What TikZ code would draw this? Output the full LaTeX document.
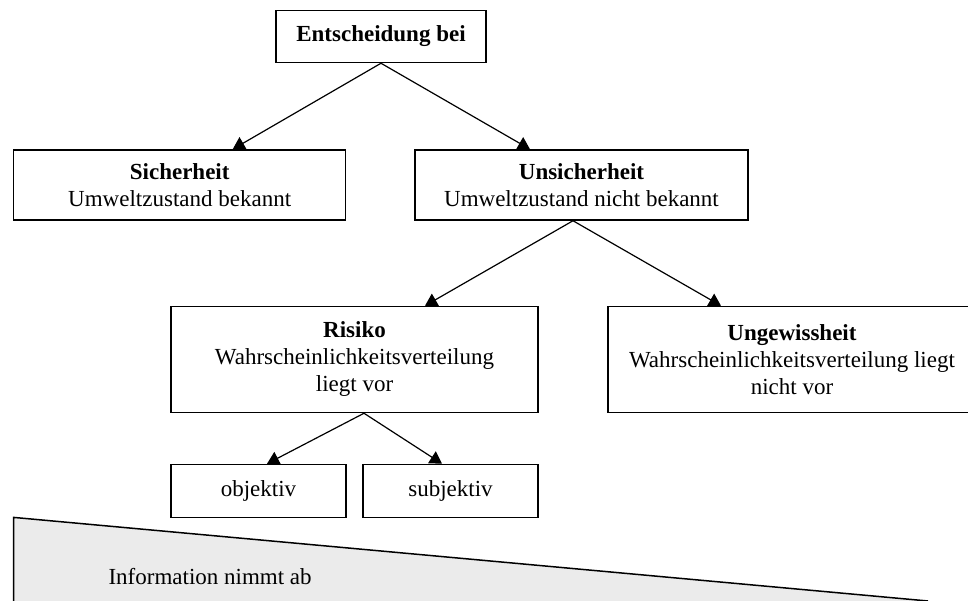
\documentclass[tikz,border=0pt]{standalone}
\usepackage{fontspec}
\setmainfont{Liberation Serif}
\usetikzlibrary{arrows.meta}
\begin{document}
\begin{tikzpicture}[x=1pt,y=-1pt,
  txt/.style={font=\fontsize{23}{27}\selectfont},
  box/.style={draw, line width=1.5pt, inner sep=0pt, align=center, txt},
  link/.style={line width=1.2pt, -{Triangle[width=14pt,length=12pt]}}]
\useasboundingbox (0,0) rectangle (968,601);
\clip (0,0) rectangle (968,601);

% wedge: information decreasing from left to right
\coordinate (wtop) at (13.6,517.4);
\coordinate (wtip) at (928,601);
\coordinate (wbot) at (13.6,601);
\fill[black!8] (wtop) -- (wtip) -- (wbot) -- cycle;
\draw[line width=1.5pt] (wbot) -- (wtop) -- (wtip);
\node[txt, anchor=west] (info) at (105,577) {Information nimmt ab};

% decision tree
\node[box, minimum width=210pt, minimum height=52pt] (top) at (381,36.5) {\textbf{Entscheidung bei}};
\node[box, minimum width=332pt, minimum height=70pt] (sich) at (179.7,185) {\textbf{Sicherheit}\\Umweltzustand bekannt};
\node[box, minimum width=333pt, minimum height=70pt] (unsich) at (581.5,185) {\textbf{Unsicherheit}\\Umweltzustand nicht bekannt};
\node[box, minimum width=367pt, minimum height=106pt] (risiko) at (354.5,359.5) {\textbf{Risiko}\\Wahrscheinlichkeitsverteilung\\liegt vor};
\node[box, minimum width=368pt, minimum height=106pt] (ungew) at (792,359.5) {\textbf{Ungewissheit}\\Wahrscheinlichkeitsverteilung liegt\\nicht vor};
\node[box, minimum width=175pt, minimum height=53pt] (obj) at (258.5,491) {objektiv};
\node[box, minimum width=175pt, minimum height=53pt] (subj) at (450.5,491) {subjektiv};

\draw[link] (top.south) -- ([xshift=53pt]sich.north);
\draw[link] (top.south) -- ([xshift=-51.5pt]unsich.north);
\draw[link] ([xshift=-8.5pt]unsich.south) -- ([xshift=70.5pt]risiko.north);
\draw[link] ([xshift=-8.5pt]unsich.south) -- ([xshift=-71pt]ungew.north);
\draw[link] ([xshift=9.5pt]risiko.south) -- ([xshift=8.5pt]obj.north);
\draw[link] ([xshift=9.5pt]risiko.south) -- ([xshift=-8.5pt]subj.north);
\end{tikzpicture}
\end{document}
